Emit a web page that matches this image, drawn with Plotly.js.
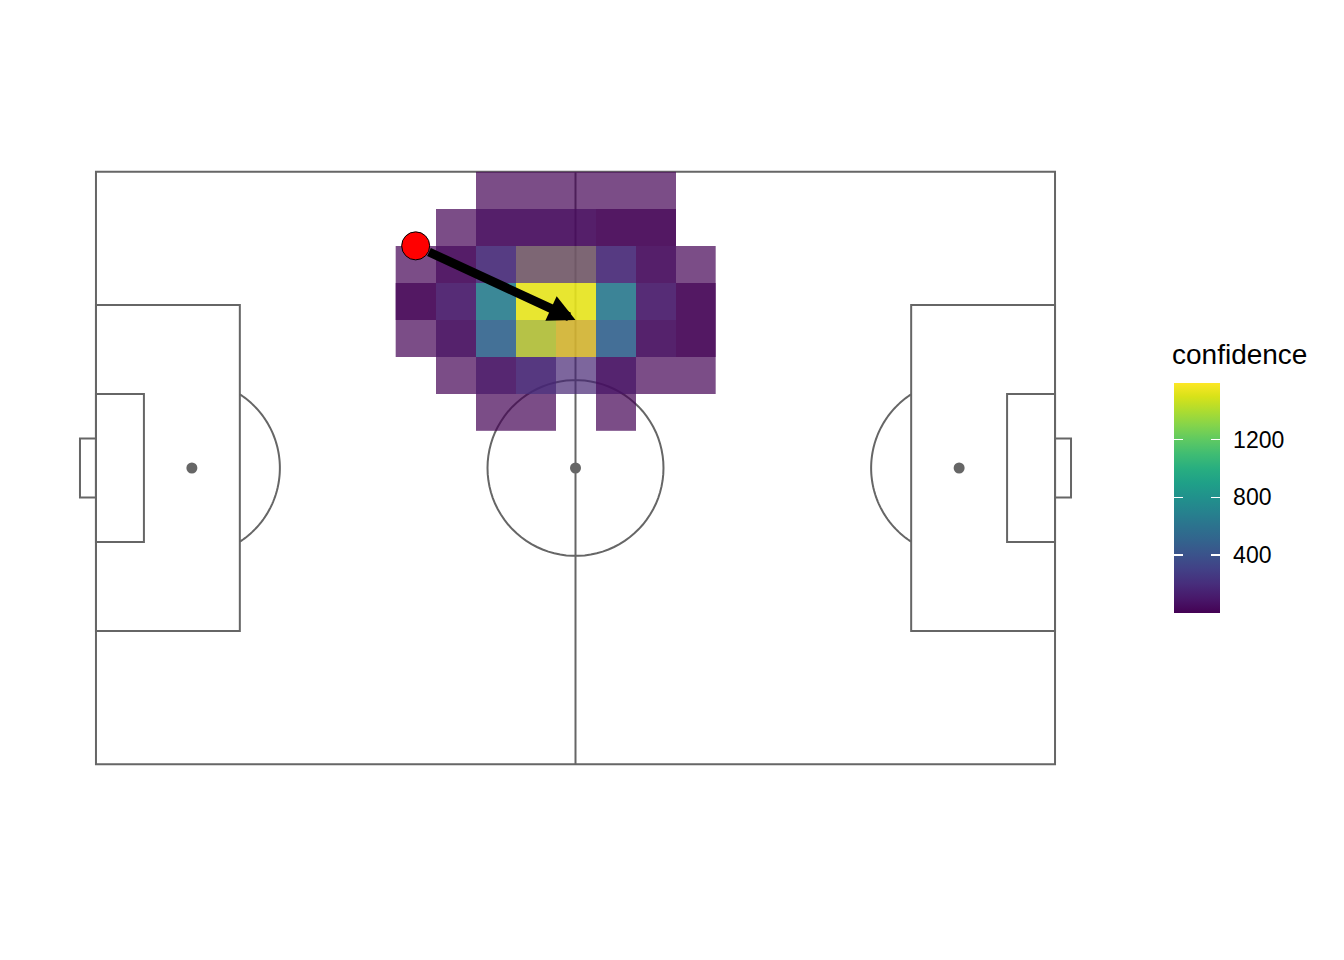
<!DOCTYPE html>
<html>
<head>
<meta charset="utf-8">
<script src="https://cdn.plot.ly/plotly-3.0.1.min.js"></script>
<style>html,body{margin:0;padding:0;background:#fff;}#chart{width:1344px;height:960px;}</style>
</head>
<body>
<div id="chart"></div>
<script>
// ---- data ----
// tile centres (pitch units, StatsBomb 120 x 80, y measured from top touchline)
const colX = [40, 45, 50, 55, 60, 65, 70, 75];
const rowY = [2.5, 7.5, 12.5, 17.5, 22.5, 27.5, 32.5];
// lower layer of confidence tiles
const confLower = [
  [null, null, 5, 5, 5, 5, 5, null],
  [null, 5, 5, 5, 5, 5, 5, null],
  [5, 32, 60, 1594, 1594, 60, 5, 5],
  [5, 5, 670, 1594, 1594, 638, 5, 5],
  [5, 5, 510, 320, 5, 494, 5, 5],
  [null, 5, 5, 32, 160, 5, 5, 5],
  [null, null, 5, 5, null, 5, null, null]
];
// upper layer of confidence tiles
const confUpper = [
  [null, null, null, null, null, null, null, null],
  [null, null, 48, 48, 48, 5, 5, null],
  [null, 32, 230, 200, 200, 215, 48, null],
  [5, 128, 670, 1515, 1515, 638, 128, 5],
  [null, 64, 510, 1482, 1594, 494, 64, 5],
  [null, null, 96, 207, null, 80, null, null],
  [null, null, null, null, null, null, null, null]
];
const confRange = [0, 1594];
const cbTickVals = [400, 800, 1200];
const cbTickText = ['400', '800', '1200'];
const legendTitle = 'confidence';
const passStart = {x: 40, y: 10};
const passEnd = {x: 60, y: 20};
const spotsX = [12, 60, 108];
const spotsY = [40, 40, 40];

// ---- pitch geometry (StatsBomb) ----
const L = 120, W = 80;
const lineCol = '#666666';
const lw = 2;
const FONT = 'Liberation Sans, Arial, sans-serif';
function rect(x0, y0, x1, y1) {
  return {type: 'rect', xref: 'x', yref: 'y', x0: x0, y0: y0, x1: x1, y1: y1,
          line: {color: lineCol, width: lw}, fillcolor: 'rgba(0,0,0,0)', layer: 'below'};
}
function seg(x0, y0, x1, y1) {
  return {type: 'line', xref: 'x', yref: 'y', x0: x0, y0: y0, x1: x1, y1: y1,
          line: {color: lineCol, width: lw}, layer: 'below'};
}
const rx = 11.01, ry = 11.87;
function arcPath(cx, cy, t0, t1) {
  let p = '';
  const n = 90;
  for (let i = 0; i <= n; i++) {
    const t = t0 + (t1 - t0) * i / n;
    const px = cx + rx * Math.cos(t), py = cy + ry * Math.sin(t);
    p += (i === 0 ? 'M' : 'L') + px.toFixed(3) + ',' + py.toFixed(3);
  }
  return {type: 'path', xref: 'x', yref: 'y', path: p, line: {color: lineCol, width: lw}, layer: 'below'};
}
const aCut = Math.acos(6 / rx);
const shapes = [
  rect(0, 0, L, W),
  seg(L / 2, 0, L / 2, W),
  rect(0, 18, 18, 62),
  rect(0, 30, 6, 50),
  rect(-2, 36, 0, 44),
  rect(102, 18, 120, 62),
  rect(114, 30, 120, 50),
  rect(120, 36, 122, 44),
  arcPath(60, 40, 0, 2 * Math.PI),
  arcPath(12, 40, -aCut, aCut),
  arcPath(108, 40, Math.PI - aCut, Math.PI + aCut)
];

const cbX = 1.0851, cbY = 0.4523;
function cbTrace(cb) {
  return {type: 'scatter', mode: 'markers', x: [null], y: [null],
    marker: {color: confRange, cmin: confRange[0], cmax: confRange[1], colorscale: 'Viridis',
      showscale: true, colorbar: cb}, hoverinfo: 'skip'};
}
const cbBase = {xanchor: 'left', xpad: 0, y: cbY, yanchor: 'middle', ypad: 0,
  len: 230, lenmode: 'pixels', thicknessmode: 'pixels', outlinewidth: 0,
  tickvals: cbTickVals, ticktext: cbTickText};

const traces = [
  {type: 'heatmap', x: colX, y: rowY, z: confLower, colorscale: 'Viridis',
   zmin: confRange[0], zmax: confRange[1], opacity: 0.7, showscale: false, hoverinfo: 'skip'},
  {type: 'heatmap', x: colX, y: rowY, z: confUpper, colorscale: 'Viridis',
   zmin: confRange[0], zmax: confRange[1], opacity: 0.7, showscale: false, hoverinfo: 'skip'},
  {type: 'scatter', mode: 'markers', x: spotsX, y: spotsY,
   marker: {size: 11, color: lineCol}, hoverinfo: 'skip'},
  // main colour bar with labels
  cbTrace(Object.assign({}, cbBase, {x: cbX, thickness: 46,
    ticks: 'outside', ticklen: 9, tickcolor: 'rgba(0,0,0,0)',
    tickfont: {size: 23, color: '#000', family: FONT}})),
  // white tick marks on right edge
  cbTrace(Object.assign({}, cbBase, {x: cbX, thickness: 46, showticklabels: false,
    ticks: 'inside', ticklen: 9, tickcolor: '#ffffff', tickwidth: 1.2})),
  // white tick marks on left edge
  cbTrace(Object.assign({}, cbBase, {x: cbX, thickness: 9, showticklabels: false,
    ticks: 'inside', ticklen: 9, tickcolor: '#ffffff', tickwidth: 1.2})),
  {type: 'scatter', mode: 'markers', x: [passStart.x], y: [passStart.y],
   marker: {size: 28, color: '#ff0000', line: {color: '#000', width: 1}}, hoverinfo: 'skip'}
];

const layout = {
  width: 1344, height: 960,
  margin: {l: 64, r: 257, t: 157, b: 181, autoexpand: false},
  paper_bgcolor: '#ffffff', plot_bgcolor: '#ffffff',
  showlegend: false,
  font: {family: FONT},
  xaxis: {range: [-4, 124], visible: false, showgrid: false, zeroline: false},
  yaxis: {range: [82, -2], visible: false, showgrid: false, zeroline: false},
  shapes: shapes,
  annotations: [
    {x: passEnd.x, y: passEnd.y, ax: passStart.x, ay: passStart.y,
     xref: 'x', yref: 'y', axref: 'x', ayref: 'y',
     text: '', showarrow: true, arrowhead: 2, arrowsize: 0.6, arrowwidth: 9,
     arrowcolor: '#000000', standoff: 0, startstandoff: 13},
    {text: legendTitle, xref: 'paper', yref: 'paper', x: cbX, y: 0.6817,
     xanchor: 'left', yanchor: 'middle', showarrow: false, xshift: -3, borderpad: 0,
     font: {size: 28, color: '#000', family: FONT}}
  ]
};

Plotly.newPlot('chart', traces, layout, {displayModeBar: false, staticPlot: true});
</script>
</body>
</html>
